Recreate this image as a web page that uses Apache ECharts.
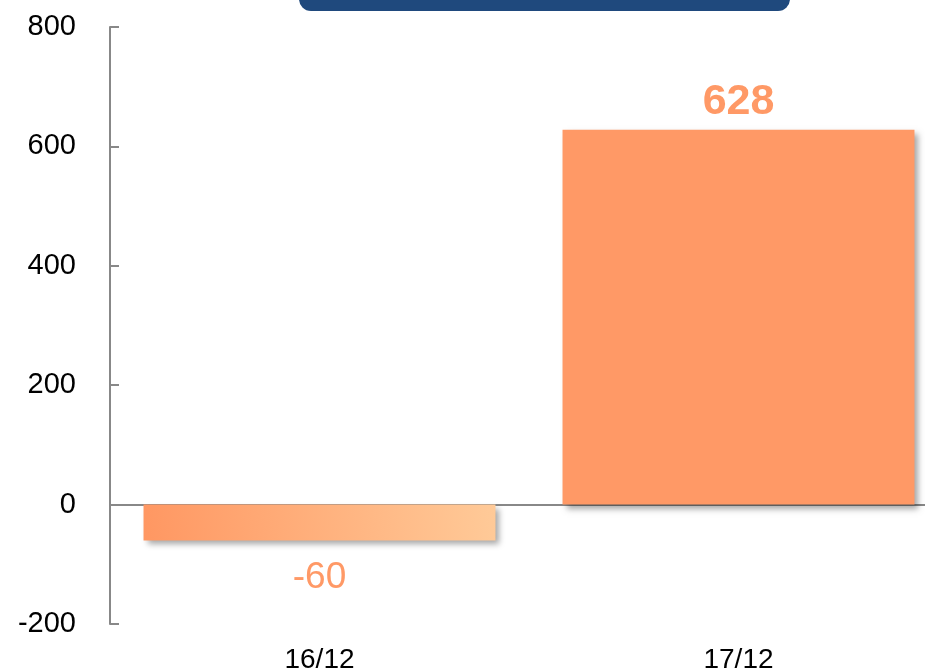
<!DOCTYPE html>
<html>
<head>
<meta charset="utf-8">
<script src="https://cdn.jsdelivr.net/npm/echarts@6/dist/echarts.min.js"></script>
<style>
  html, body { margin: 0; padding: 0; background: #fff; }
  #main { width: 925px; height: 670px; }
</style>
</head>
<body>
<div id="main"></div>
<script>
// data
var categories = ['16/12', '17/12'];
var values = [-60, 628];
var yTicks = [-200, 0, 200, 400, 600, 800];

var myChart = echarts.init(document.getElementById('main'));

var shadow = {
  shadowColor: 'rgba(0,0,0,0.35)',
  shadowBlur: 6,
  shadowOffsetX: 4,
  shadowOffsetY: 4
};

var barData = values.map(function (v, i) {
  var item = { value: v, itemStyle: Object.assign({}, shadow) };
  if (v < 0) {
    // lighter gradient on the negative bar
    item.itemStyle.color = new echarts.graphic.LinearGradient(0, 1, 1, 0, [
      { offset: 0, color: '#ff9762' },
      { offset: 1, color: '#ffca98' }
    ]);
    item.label = { position: 'bottom', distance: 19, fontWeight: 'normal', fontSize: 37 };
  } else {
    item.itemStyle.color = '#ff9966';
  }
  return item;
});

var option = {
  animation: false,
  grid: { left: 110, width: 838, top: 27, bottom: 46, outerBoundsMode: 'none', containLabel: false },
  graphic: [
    {
      type: 'rect',
      shape: { x: 299, y: -30, width: 491, height: 41, r: 12 },
      style: { fill: '#1f497d' }
    }
  ],
  xAxis: [
    {
      type: 'category',
      data: categories,
      position: 'bottom',
      axisLine: { show: false, onZero: false },
      axisTick: { show: false },
      axisLabel: { color: '#000', fontSize: 28, margin: 22, fontFamily: 'Liberation Sans, Arial' }
    },
    {
      // zero line
      type: 'category',
      data: categories,
      axisLine: { onZero: true, lineStyle: { color: '#888', width: 2 } },
      axisTick: { show: false },
      axisLabel: { show: false }
    }
  ],
  yAxis: {
    type: 'value',
    min: yTicks[0],
    max: yTicks[yTicks.length - 1],
    interval: 200,
    splitLine: { show: false },
    axisLine: { show: true, lineStyle: { color: '#888', width: 2 } },
    axisTick: { show: true, inside: true, length: 9, lineStyle: { color: '#888', width: 2 } },
    axisLabel: { color: '#000', fontSize: 29, margin: 34, fontFamily: 'Liberation Sans, Arial' }
  },
  series: [
    {
      type: 'bar',
      xAxisIndex: 0,
      barWidth: '84%',
      data: barData,
      label: {
        show: true,
        position: 'top',
        distance: 6,
        color: '#ff9966',
        fontSize: 43,
        fontWeight: 'bold',
        fontFamily: 'Liberation Sans, Arial'
      }
    }
  ]
};

myChart.setOption(option);
</script>
</body>
</html>
